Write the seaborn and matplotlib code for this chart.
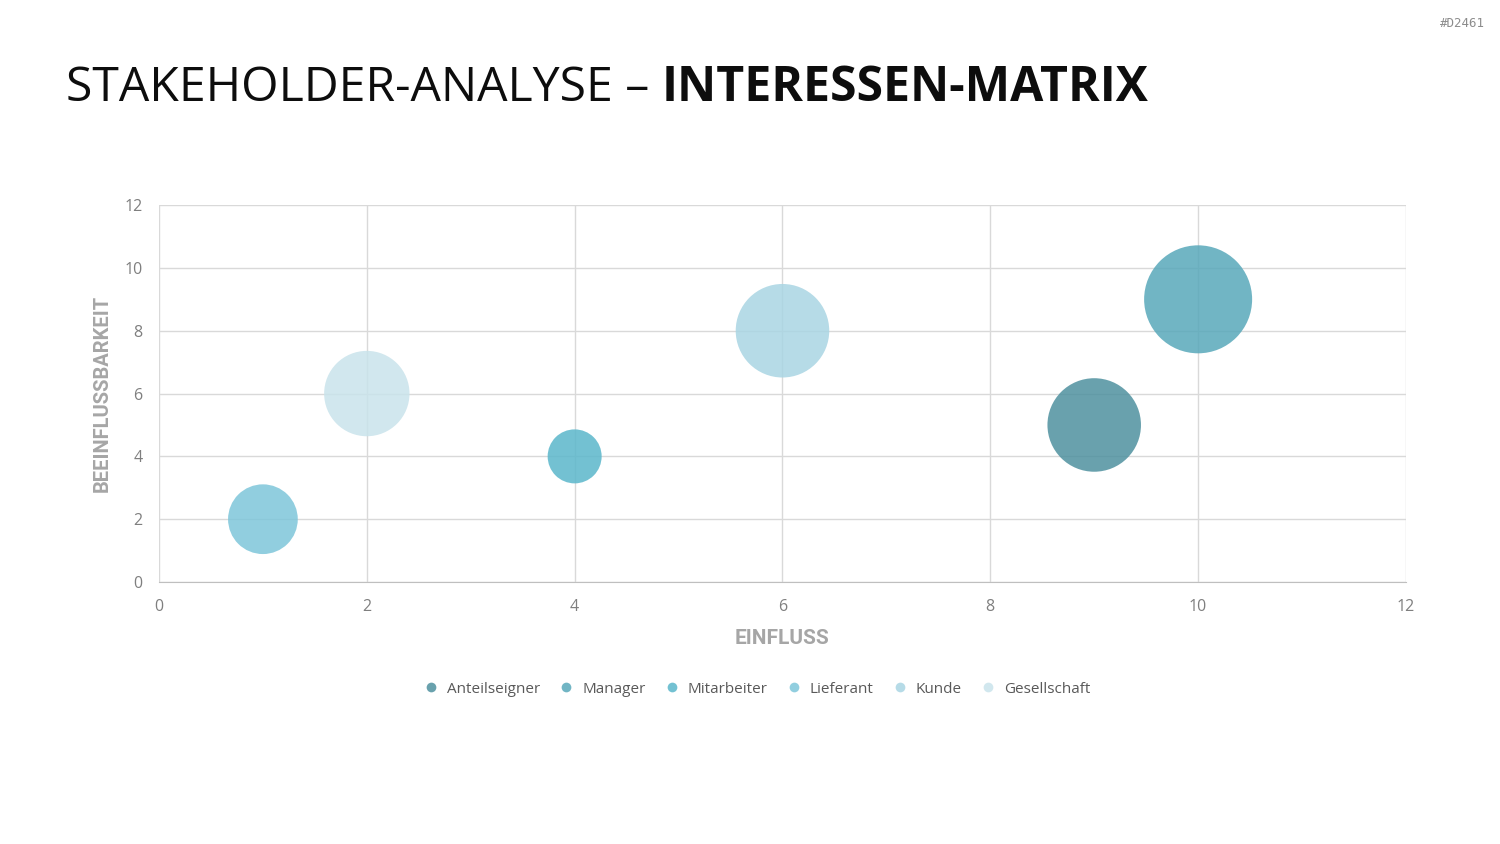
import matplotlib
matplotlib.use("Agg")
import matplotlib.pyplot as plt
from matplotlib.lines import Line2D
import seaborn as sns
import pandas as pd

# data
names = ["Anteilseigner", "Manager", "Mitarbeiter", "Lieferant", "Kunde", "Gesellschaft"]
einfluss = [9, 10, 4, 1, 6, 2]
beeinflussbarkeit = [5, 9, 4, 2, 8, 6]
bubble = [9, 12, 3, 5, 9, 7.5]
colors = ["#4F919F", "#58A8BA", "#5BB7CB", "#7EC6DA", "#A9D5E3", "#C9E3EB"]

df = pd.DataFrame({"name": names, "x": einfluss, "y": beeinflussbarkeit, "size": bubble})

sns.set_style("white")
plt.rcParams["font.family"] = ["Open Sans", "DejaVu Sans"]

fig = plt.figure(figsize=(15, 8.44), dpi=100)
ax = fig.add_axes([0.106, 0.3104, 0.8313, 0.4466])

max_s = (108 * 0.72) ** 2
sns.scatterplot(data=df, x="x", y="y", hue="name", palette=colors, size="size",
                sizes=(0, max_s), size_norm=(0, 12), alpha=0.85, linewidth=0,
                legend=False, ax=ax, zorder=3)

ax.set_xlim(0, 12)
ax.set_ylim(0, 12)
ax.set_xticks(range(0, 13, 2))
ax.set_yticks(range(0, 13, 2))
ax.grid(True, color="#D9D9D9", linewidth=1)
ax.set_axisbelow(True)
for side in ["top", "right", "left"]:
    ax.spines[side].set_visible(False)
ax.spines["bottom"].set_color("#BFBFBF")
ax.tick_params(axis="both", length=0, labelsize=11.5, labelcolor="#7F7F7F", pad=12)

lab = dict(fontsize=15, fontweight="bold", color="#A6A6A6",
           family=["Roboto", "DejaVu Sans"])
ax.set_xlabel("EINFLUSS", labelpad=10, **lab)
ax.set_ylabel("BEEINFLUSSBARKEIT", labelpad=9, fontsize=14.5,
              **{k: v for k, v in lab.items() if k != "fontsize"})

handles = [Line2D([], [], marker="o", linestyle="", markersize=7, markeredgewidth=0,
                  color=c, alpha=0.85, label=n) for n, c in zip(names, colors)]
fig.legend(handles=handles, loc="center", bbox_to_anchor=(0.502, 0.1835), ncol=6,
           frameon=False, fontsize=11, handletextpad=0.05, columnspacing=0.7,
           labelcolor="#595959")

# title in two weights
t1 = fig.text(0.044, 0.88, "STAKEHOLDER-ANALYSE – ", fontsize=34.7, color="#0D0D0D",
              va="baseline")
fig.canvas.draw()
bb = t1.get_window_extent()
fig.text(bb.x1 / fig.bbox.width, 0.88, "INTERESSEN-MATRIX", fontsize=34.7,
         fontweight="bold", color="#0D0D0D", va="baseline")

fig.text(0.99, 0.972, "#D2461", fontsize=9, color="#8C8C8C", ha="right", va="center",
         family="DejaVu Sans Mono")

fig.savefig("out.png", dpi=100)
